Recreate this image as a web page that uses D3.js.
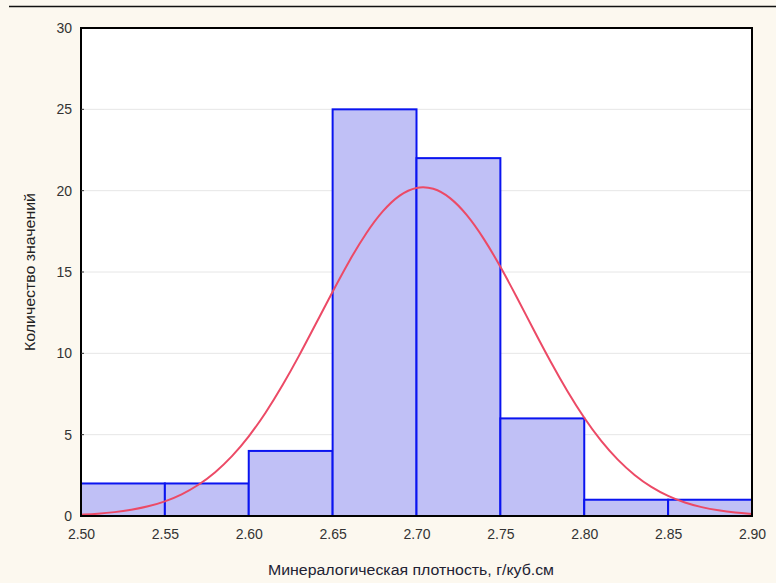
<!DOCTYPE html>
<html><head><meta charset="utf-8">
<script src="https://cdn.jsdelivr.net/npm/d3@7"></script>
<style>html,body{margin:0;padding:0;background:#fcf8ef;}</style>
</head><body>
<script>
const binStarts = [2.50, 2.55, 2.60, 2.65, 2.70, 2.75, 2.80, 2.85];
const binWidth = 0.05;
const counts = [2, 2, 4, 25, 22, 6, 1, 1];
const curveX = [2.50,2.51,2.52,2.53,2.54,2.55,2.56,2.57,2.58,2.59,2.60,2.61,2.62,2.63,2.64,2.65,2.66,2.67,2.68,2.69,2.70,2.71,2.72,2.73,2.74,2.75,2.76,2.77,2.78,2.79,2.80,2.81,2.82,2.83,2.84,2.85,2.86,2.87,2.88,2.89,2.90];
const curveY = [0.08,0.14,0.23,0.37,0.58,0.88,1.31,1.89,2.66,3.64,4.86,6.31,7.99,9.84,11.81,13.80,15.72,17.42,18.81,19.78,20.26,20.20,19.62,18.56,17.10,15.35,13.41,11.41,9.46,7.64,6.00,4.59,3.43,2.49,1.76,1.21,0.81,0.53,0.34,0.21,0.13];
const xTicks = [2.50,2.55,2.60,2.65,2.70,2.75,2.80,2.85,2.90];
const yTicks = [0,5,10,15,20,25,30];
const xTitle = "Минералогическая плотность, г/куб.см";
const yTitle = "Количество значений";

const W = 776, H = 583;
const m = {left: 81, top: 28, right: 752, bottom: 516};
const FONT = "'Liberation Sans', Arial, sans-serif";
const svg = d3.select("body").append("svg").attr("width", W).attr("height", H)
  .style("display","block").style("font-family", FONT);
svg.append("rect").attr("width", W).attr("height", H).attr("fill", "#fcf8ef");
svg.append("line").attr("x1", 9).attr("x2", W).attr("y1", 6.5).attr("y2", 6.5)
  .attr("stroke", "#111").attr("stroke-width", 1.5);

const x = d3.scaleLinear().domain([2.5, 2.9]).range([m.left, m.right]);
const y = d3.scaleLinear().domain([0, 30]).range([m.bottom, m.top]);

svg.append("rect").attr("x", m.left).attr("y", m.top).attr("width", m.right - m.left)
  .attr("height", m.bottom - m.top).attr("fill", "#fff");

// gridlines
svg.append("g").selectAll("line").data(yTicks.filter(d => d > 0 && d < 30)).join("line")
  .attr("x1", m.left).attr("x2", m.right).attr("y1", d => y(d)).attr("y2", d => y(d))
  .attr("stroke", "#e6e6e6").attr("stroke-width", 1);

// bars
svg.append("g").selectAll("rect").data(binStarts).join("rect")
  .attr("x", d => x(d)).attr("width", d => x(d + binWidth) - x(d))
  .attr("y", (d, i) => y(counts[i])).attr("height", (d, i) => y(0) - y(counts[i]))
  .attr("fill", "#c0c0f6").attr("stroke", "#0a14f0").attr("stroke-width", 2);

// curve
const line = d3.line().x((d, i) => x(curveX[i])).y(d => y(d)).curve(d3.curveBasis);
svg.append("path").datum(curveY).attr("d", line).attr("fill", "none")
  .attr("stroke", "#ec4a66").attr("stroke-width", 2);

// frame
svg.append("rect").attr("x", m.left).attr("y", m.top).attr("width", m.right - m.left)
  .attr("height", m.bottom - m.top).attr("fill", "none").attr("stroke", "#000").attr("stroke-width", 2);

// axes
const yAxis = d3.axisLeft(y).tickValues(yTicks).tickSize(0).tickPadding(9).tickFormat(d3.format("d"));
const gy = svg.append("g").attr("transform", `translate(${m.left},0)`).call(yAxis);
gy.select(".domain").remove();
gy.selectAll("text").attr("font-size", 14).attr("fill", "#333").attr("font-family", FONT);

const xAxis = d3.axisBottom(x).tickValues(xTicks).tickSize(0).tickPadding(13).tickFormat(d3.format(".2f"));
const gx = svg.append("g").attr("transform", `translate(0,${m.bottom})`).call(xAxis);
gx.select(".domain").remove();
gx.selectAll("text").attr("font-size", 14).attr("fill", "#333").attr("font-family", FONT);

// small inner tick marks
svg.append("g").selectAll("line").data(yTicks.filter(d => d > 0 && d < 30)).join("line")
  .attr("x1", m.left).attr("x2", m.left + 3).attr("y1", d => y(d)).attr("y2", d => y(d))
  .attr("stroke", "#333").attr("stroke-width", 1);

svg.append("text").attr("x", 411).attr("y", 575).attr("text-anchor", "middle")
  .attr("font-size", 14).attr("fill", "#223").attr("textLength", 286).attr("lengthAdjust", "spacingAndGlyphs").text(xTitle);
svg.append("text").attr("transform", `translate(35,272) rotate(-90)`)
  .attr("text-anchor", "middle").attr("font-size", 14).attr("fill", "#222")
  .attr("textLength", 158).attr("lengthAdjust", "spacingAndGlyphs").text(yTitle);
</script>
</body></html>
